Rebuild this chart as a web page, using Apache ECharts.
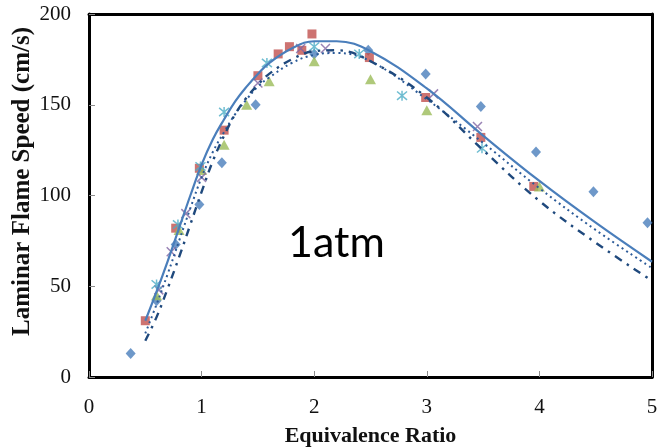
<!DOCTYPE html>
<html><head><meta charset="utf-8">
<script src="https://cdn.jsdelivr.net/npm/echarts@6.0.0/dist/echarts.min.js"></script>
<style>html,body{margin:0;padding:0;background:#fff}#c{width:660px;height:448px}</style>
</head><body><div id="c"></div>
<script>
// Axis ticks
const xTicks = [0, 1, 2, 3, 4, 5];
const yTicks = [0, 50, 100, 150, 200];

// Measured data (markers)
const diamondX = [0.37, 0.60, 0.77, 0.98, 1.18, 1.48, 2.00, 2.48, 2.99, 3.48, 3.97, 4.48, 4.96];
const diamondY = [13, 42, 73, 95, 118, 150, 178, 180, 167, 149, 124, 102, 85];
const squareX = [0.50, 0.77, 0.98, 1.20, 1.50, 1.68, 1.78, 1.89, 1.98, 2.49, 2.99, 3.48, 3.95];
const squareY = [31, 82, 115, 136, 166, 178, 182, 180, 189, 176, 154, 132, 105];
const triangleX = [0.60, 0.80, 1.00, 1.20, 1.40, 1.60, 2.00, 2.50, 3.00, 4.00];
const triangleY = [45, 81, 114, 128, 150, 163, 174, 164, 147, 105];
const crossX = [0.62, 0.73, 0.86, 1.00, 1.50, 1.88, 2.10, 3.06, 3.45];
const crossY = [48, 69, 90, 110, 162, 181, 181, 156, 138];
const starX = [0.60, 0.79, 0.99, 1.20, 1.58, 2.00, 2.40, 2.78, 3.49];
const starY = [51, 84, 116, 146, 173, 182, 178, 155, 126];

// Model curves
const curveX = [0.5, 0.6, 0.7, 0.8, 0.9, 1.0, 1.1, 1.2, 1.3, 1.4, 1.5, 1.6, 1.8, 2.0, 2.2, 2.5, 3.0, 3.5, 4.0, 4.5, 5.0];
const solidY = [31, 47, 64, 82, 100, 117, 131, 142, 152, 160, 167, 173, 181, 185, 185, 179.5, 159, 133, 108, 85, 63.5];
const dottedY = [24, 40, 57, 75, 93, 110, 124, 135, 145, 153, 160, 165, 173, 177.5, 178.5, 174, 153, 129, 104, 81, 60];
const dashDotY = [20, 33, 49, 66, 84, 102, 119, 133, 145, 154, 161, 167, 175, 179.5, 180, 174, 154, 125, 97, 74, 53];

const pair = (xs, ys) => xs.map((x, i) => [x, ys[i]]);

const serif = 'Liberation Serif';
const axisCommon = {
  type: 'value',
  axisLine: { show: true, lineStyle: { color: '#000', width: 3 } },
  axisTick: { show: true, inside: true, length: 6, lineStyle: { color: '#8c8c8c', width: 1 } },
  splitLine: { show: false },
  axisLabel: { color: '#111', fontFamily: serif, fontSize: 21 }
};
const frameAxis = {
  type: 'value',
  axisLine: { show: true, onZero: false, lineStyle: { color: '#000', width: 3 } },
  axisTick: { show: false }, axisLabel: { show: false }, splitLine: { show: false }
};

const chart = echarts.init(document.getElementById('c'), null, { renderer: 'canvas' });
chart.setOption({
  animation: false,
  backgroundColor: '#fff',
  grid: { left: 89, right: 8, top: 14, bottom: 71, containLabel: false, outerBoundsMode: 'none' },
  xAxis: [
    Object.assign({}, axisCommon, {
      min: xTicks[0], max: xTicks[xTicks.length - 1], interval: xTicks[1] - xTicks[0],
      axisLabel: Object.assign({}, axisCommon.axisLabel, { margin: 20 })
    }),
    Object.assign({}, frameAxis, { position: 'top', min: xTicks[0], max: xTicks[xTicks.length - 1] })
  ],
  yAxis: [
    Object.assign({}, axisCommon, {
      min: yTicks[0], max: yTicks[yTicks.length - 1], interval: yTicks[1] - yTicks[0],
      axisLabel: Object.assign({}, axisCommon.axisLabel, { margin: 18 })
    }),
    Object.assign({}, frameAxis, { position: 'right', min: yTicks[0], max: yTicks[yTicks.length - 1] })
  ],
  graphic: [
    { type: 'text', x: 370.5, y: 436, style: { text: 'Equivalence Ratio', font: 'bold 22px "Liberation Serif"', fill: '#111', align: 'center', verticalAlign: 'middle' } },
    { type: 'text', x: 22.5, y: 181.5, rotation: Math.PI / 2, style: { text: 'Laminar Flame Speed (cm/s)', font: 'bold 25px "Liberation Serif"', fill: '#111', align: 'center', verticalAlign: 'middle' } },
    { type: 'text', x: 288, y: 243, style: { text: '1atm', font: '43px Lato', fill: '#000', align: 'left', verticalAlign: 'middle' } }
  ],
  series: [
    { type: 'scatter', data: pair(diamondX, diamondY), symbol: 'diamond', symbolSize: [10, 11], itemStyle: { color: '#4A7EBB' } },
    { type: 'scatter', data: pair(squareX, squareY), symbol: 'rect', symbolSize: 9, itemStyle: { color: '#C0504D' } },
    { type: 'scatter', data: pair(triangleX, triangleY), symbol: 'triangle', symbolSize: [11, 10], itemStyle: { color: '#9BBB59' } },
    { type: 'scatter', data: pair(crossX, crossY), symbol: 'path://M0,0L10,10M10,0L0,10', symbolSize: 9, itemStyle: { color: 'rgba(0,0,0,0)', borderColor: '#8064A2', borderWidth: 1.5 } },
    { type: 'scatter', data: pair(starX, starY), symbol: 'path://M0,0L10,10M10,0L0,10M5,-1L5,11', symbolSize: 10, itemStyle: { color: 'rgba(0,0,0,0)', borderColor: '#4BACC6', borderWidth: 1.5 } },
    { type: 'line', data: pair(curveX, solidY), smooth: 0.4, showSymbol: false, lineStyle: { color: '#4A7EBB', width: 2.2 } },
    { type: 'line', data: pair(curveX, dottedY), smooth: 0.4, showSymbol: false, lineStyle: { color: '#2B5A98', width: 2, type: [2, 3.5] } },
    { type: 'line', data: pair(curveX, dashDotY), smooth: 0.4, showSymbol: false, lineStyle: { color: '#1F497D', width: 2.4, type: [8, 6, 2.5, 6] } }
  ]
});
</script></body></html>
